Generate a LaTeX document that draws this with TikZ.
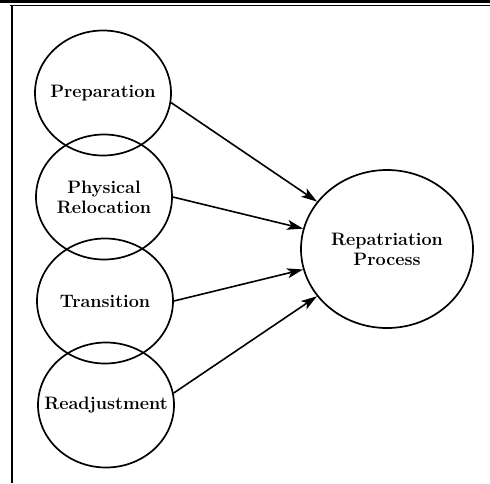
\documentclass[tikz,border=0pt]{standalone}
\usetikzlibrary{shapes.geometric,arrows.meta}
\begin{document}
\begin{tikzpicture}[x=1pt,y=-1pt,
  stage/.style={draw,line width=1.7pt,ellipse,minimum width=136pt,minimum height=125pt,inner xsep=-40pt,inner ysep=0pt,align=center,font=\fontsize{18}{20}\selectfont\bfseries},
  goal/.style={draw,line width=1.7pt,ellipse,minimum width=172pt,minimum height=158pt,inner xsep=-40pt,inner ysep=0pt,align=center,font=\fontsize{18}{20}\selectfont\bfseries},
  conn/.style={line width=1.6pt,-{Stealth[length=16pt,width=10pt,inset=4pt]}}]
\useasboundingbox (0,0) rectangle (490,483);
\draw[line width=3pt] (0,1.5) -- (490,1.5);
\draw[line width=1pt] (10,5.5) -- (490,5.5);
\draw[line width=1.5pt] (12,5) -- (12,483);
\node[stage] (prep) at (103,93) {Preparation};
\node[stage] (phys) at (104,197) {Physical\\Relocation};
\node[stage] (trans) at (105,301) {Transition};
\node[stage] (read) at (106,405) {Readjustment};
\node[goal] (rep) at (387,249) {Repatriation\\Process};
\draw[conn] (prep.-8) -- (rep);
\draw[conn] (phys.east) -- (rep);
\draw[conn] (trans.east) -- (rep);
\draw[conn] (read.10) -- (rep);
\end{tikzpicture}
\end{document}
